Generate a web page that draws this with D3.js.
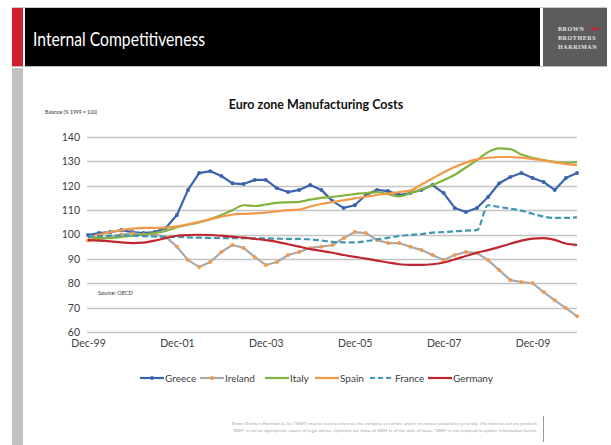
<!DOCTYPE html>
<html lang="en">
<head>
<meta charset="UTF-8">
<title>Euro zone Manufacturing Costs</title>
<script src="https://cdn.jsdelivr.net/npm/d3@7"></script>
<style>
  body { margin: 0; background: #fff; }
  svg { display: block; font-family: Lato, "Open Sans", sans-serif; }
</style>
</head>
<body>
<script>
// quarterly index, Dec-99 .. Dec-10
const tickLabels = ["Dec-99", "Dec-01", "Dec-03", "Dec-05", "Dec-07", "Dec-09"];
const yTicks = [60, 70, 80, 90, 100, 110, 120, 130, 140];

const greece = [99.8, 100.6, 101, 101.8, 101, 100.6, 101, 102.7, 108, 118.3,
  125.2, 126, 124, 121, 120.7, 122.4, 122.4, 119, 117.4, 118.3,
  120.3, 118.3, 113.7, 110.9, 112, 116.2, 118.3, 117.8, 116.2, 117,
  118.3, 120.3, 117, 110.9, 109.2, 110.9, 115.4, 121, 123.6, 125.2,
  123.2, 121.5, 118.3, 123.2, 125.2];
const ireland = [97.5, 98, 99, 100, 100.5, 100, 100, 99, 95, 89.5,
  86.7, 88.7, 92.8, 95.7, 94.5, 90.8, 87.5, 88.7, 91.6, 92.8,
  94.5, 95, 95.7, 98.5, 101, 100.6, 97.7, 96.5, 96.5, 95,
  93.6, 91.6, 89.5, 91.6, 92.8, 92.4, 89.5, 85.4, 81.3, 80.5,
  80, 76.4, 73, 69.8, 66.5];
const italy = [99, 98.5, 98.5, 99, 99.5, 100, 100.6, 101.5, 103, 104,
  105, 106.3, 108, 110, 112, 111.7, 112.3, 113, 113.2, 113.4,
  114.3, 115, 115.4, 116, 116.6, 117, 117.4, 116.5, 115.6, 117,
  118.5, 120.2, 122.3, 124.5, 127.5, 130.5, 133.8, 135.3, 135, 132.8,
  131.5, 130.5, 129.8, 129.4, 129.7];
const spain = [98.5, 100, 101, 101.8, 102.4, 102.7, 102.7, 102.8, 103.3, 104.2,
  105.2, 106.2, 107.3, 108.2, 108.5, 108.7, 109, 109.5, 110, 110.2,
  111.5, 112.5, 113.3, 114, 114.8, 115.5, 116.2, 116.8, 117.4, 118,
  120.5, 123, 125.5, 127.7, 129.5, 130.8, 131.5, 131.8, 131.8, 131.5,
  131, 130.4, 129.6, 128.9, 128.5];
const france = [99, 99.3, 99.5, 99.5, 99.5, 99.3, 99.2, 99, 99, 98.8,
  98.7, 98.6, 98.5, 98.5, 98.5, 98.4, 98.4, 98.3, 98.2, 98.2,
  98, 97.5, 97, 96.8, 96.8, 97.2, 98, 98.6, 99.4, 99.8,
  100.2, 100.8, 101, 101.3, 101.6, 101.8, 112, 111.3, 110.6, 109.8,
  108.5, 107.3, 106.8, 106.8, 107];
const germany = [97.7, 97.5, 97.2, 96.8, 96.5, 96.7, 97.5, 98.5, 99.5, 99.8,
  99.9, 99.8, 99.5, 99.1, 98.7, 98.2, 97.7, 97, 96, 95,
  94, 93.3, 92.5, 91.6, 90.8, 90.1, 89.3, 88.5, 87.8, 87.5,
  87.5, 87.8, 88.5, 89.8, 91.2, 92.5, 93.6, 94.8, 96.2, 97.5,
  98.3, 98.5, 97.8, 96.3, 95.7];

const seriesNames = ["Greece", "Ireland", "Italy", "Spain", "France", "Germany"];
const seriesValues = [greece, ireland, italy, spain, france, germany];

const styles = {
  Greece:  {stroke: "#3b64ad", marker: "#3b64ad", smooth: false},
  Ireland: {stroke: "#a9a9a9", marker: "#f39a4a", smooth: false},
  Italy:   {stroke: "#84b23f", smooth: true},
  Spain:   {stroke: "#f39a4a", smooth: true},
  France:  {stroke: "#3f97b1", smooth: true, dash: "6,3"},
  Germany: {stroke: "#c0262d", smooth: true}
};

const width = 611, height = 445;
const svg = d3.select("body").append("svg").attr("width", width).attr("height", height);

// page frame
svg.append("line").attr("x1", 12).attr("x2", 607).attr("y1", 7.5).attr("y2", 7.5)
  .attr("stroke", "#c8c8c8");
svg.append("rect").attr("x", 12).attr("y", 8).attr("width", 11).attr("height", 58).attr("fill", "#d0202f");
svg.append("rect").attr("x", 12).attr("y", 68).attr("width", 11).attr("height", 377).attr("fill", "#c2c2c2");
svg.append("rect").attr("x", 25).attr("y", 8).attr("width", 515).attr("height", 58).attr("fill", "#000");
svg.append("rect").attr("x", 543).attr("y", 8).attr("width", 64).attr("height", 58).attr("fill", "#5c5c5c");
svg.append("line").attr("x1", 12).attr("x2", 607).attr("y1", 66.5).attr("y2", 66.5)
  .attr("stroke", "#bdbdbd");

svg.append("text").attr("x", 33).attr("y", 46)
  .attr("fill", "#fff").attr("font-size", 18.5)
  .attr("textLength", 172).attr("lengthAdjust", "spacingAndGlyphs")
  .text("Internal Competitiveness");

const logo = svg.append("g").attr("fill", "#e6e6e6").attr("font-family", "'Liberation Serif', serif")
  .attr("font-size", 6).attr("font-weight", "bold").attr("letter-spacing", 0.6);
logo.append("text").attr("x", 558).attr("y", 31).text("BROWN");
logo.append("rect").attr("x", 591).attr("y", 28).attr("width", 8).attr("height", 2).attr("fill", "#d0202f");
logo.append("text").attr("x", 558).attr("y", 40).text("BROTHERS");
logo.append("text").attr("x", 558).attr("y", 49).text("HARRIMAN");

// chart
const margin = {left: 88, right: 577, top: 137, bottom: 332};
const quarters = d3.range(greece.length);
const x = d3.scaleLinear().domain([0, greece.length - 1]).range([margin.left, margin.right]);
const y = d3.scaleLinear().domain([60, 140]).range([margin.bottom, margin.top]);

svg.append("text").attr("x", 316).attr("y", 109).attr("text-anchor", "middle")
  .attr("font-size", 12.5).attr("font-weight", "bold").attr("fill", "#111")
  .text("Euro zone Manufacturing Costs");
svg.append("text").attr("x", 45).attr("y", 114).attr("font-size", 5).attr("fill", "#333")
  .text("Balance (% 1999 = 100)");

const grid = svg.append("g");
grid.selectAll("line").data(yTicks).join("line")
  .attr("x1", margin.left - 1).attr("x2", margin.right)
  .attr("y1", d => Math.round(y(d)) + 0.5).attr("y2", d => Math.round(y(d)) + 0.5)
  .attr("stroke", "#c4c4c4").attr("stroke-width", 1.3);

const yAxis = svg.append("g").attr("transform", `translate(${margin.left},0)`)
  .call(d3.axisLeft(y).tickValues(yTicks).tickSize(0).tickPadding(8));
yAxis.select(".domain").remove();
yAxis.selectAll("text").attr("font-size", 10.5).attr("fill", "#404040").attr("font-family", "Lato, sans-serif");

const xAxis = svg.append("g").attr("transform", `translate(0,${margin.bottom})`)
  .call(d3.axisBottom(x).tickValues(tickLabels.map((d, i) => i * 8))
    .tickFormat((d, i) => tickLabels[i]).tickSize(0).tickPadding(8));
xAxis.select(".domain").remove();
xAxis.selectAll("text").attr("font-size", 10.5).attr("fill", "#404040").attr("font-family", "Lato, sans-serif");

svg.append("text").attr("x", 98).attr("y", 295).attr("font-size", 5.5).attr("fill", "#333")
  .text("Source: OECD");

const lines = svg.append("g").attr("fill", "none");
seriesNames.forEach((name, k) => {
  const st = styles[name];
  const gen = d3.line().x((d, i) => x(i)).y(d => y(d))
    .curve(st.smooth ? d3.curveMonotoneX : d3.curveLinear);
  lines.append("path").datum(seriesValues[k])
    .attr("d", gen)
    .attr("stroke", st.stroke).attr("stroke-width", 2.2)
    .attr("stroke-dasharray", st.dash || null)
    .attr("stroke-linejoin", "round");
  if (st.marker) {
    lines.append("g").selectAll("circle").data(seriesValues[k]).join("circle")
      .attr("cx", (d, i) => x(i)).attr("cy", d => y(d)).attr("r", 2)
      .attr("fill", st.marker);
  }
});

// legend
const legendX = [140, 200, 265, 315, 370, 428];
const legend = svg.append("g").attr("font-size", 10).attr("fill", "#404040");
seriesNames.forEach((name, k) => {
  const st = styles[name];
  const g = legend.append("g").attr("transform", `translate(${legendX[k]},378)`);
  g.append("line").attr("x1", 0).attr("x2", 24).attr("stroke", st.stroke).attr("stroke-width", 2.2)
    .attr("stroke-dasharray", st.dash ? "5,3" : null);
  if (st.marker) g.append("circle").attr("cx", 12).attr("r", 2).attr("fill", st.marker);
  g.append("text").attr("x", 25).attr("dy", "0.35em").text(name);
});

// footer
const disclaimer = [
  "Brown Brothers Harriman & Co. (\"BBH\") may be used to reference the company as a whole and/or its various subsidiaries generally. This material and any products",
  "\"BBH\" is not an appropriate source of legal advice. Opinions are those of BBH as of the date of issue; \"BBH\" is not required to update information herein."
];
svg.append("g").attr("font-size", 4).attr("fill", "#a8a8a8")
  .selectAll("text").data(disclaimer).join("text")
  .attr("x", 232).attr("y", (d, i) => 425 + i * 7)
  .attr("textLength", 305).attr("lengthAdjust", "spacingAndGlyphs")
  .text(d => d);
svg.append("line").attr("x1", 543.5).attr("x2", 543.5).attr("y1", 416).attr("y2", 442)
  .attr("stroke", "#999");
</script>
</body>
</html>
